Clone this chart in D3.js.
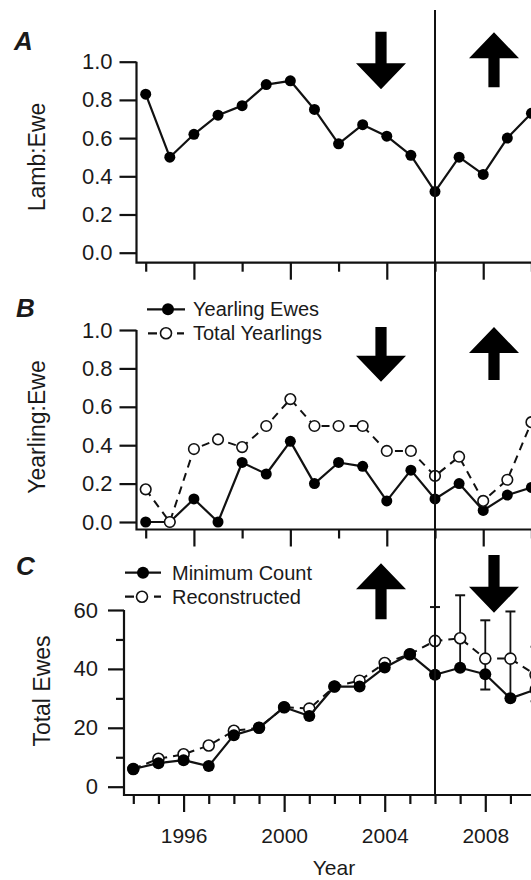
<!DOCTYPE html>
<html>
<head>
<meta charset="utf-8">
<script src="https://cdn.jsdelivr.net/npm/d3@7"></script>
<style>
  html, body { margin: 0; padding: 0; background: #fff; overflow: hidden; }
  svg { display: block; }
  text { font-family: "Liberation Sans", Arial, Helvetica, sans-serif; fill: #1a1a1a; }
</style>
</head>
<body>
<svg id="chart" width="531" height="880"></svg>
<script>
// ---------------- data ----------------
const years = [1994,1995,1996,1997,1998,1999,2000,2001,2002,2003,2004,2005,2006,2007,2008,2009,2010];
const lambEwe = [0.83,0.50,0.62,0.72,0.77,0.88,0.90,0.75,0.57,0.67,0.61,0.51,0.32,0.50,0.41,0.60,0.73];
const yearlingEwes = [0.00,0.00,0.12,0.00,0.31,0.25,0.42,0.20,0.31,0.29,0.11,0.27,0.12,0.20,0.06,0.14,0.18];
const totalYearlings = [0.17,0.00,0.38,0.43,0.39,0.50,0.64,0.50,0.50,0.50,0.37,0.37,0.24,0.34,0.11,0.22,0.52];
const minimumCount = [6,8,9,7,17.5,20,27,24,34,34,40.5,45,38,40.4,38.2,30,33];
const reconstructed = [6,9.5,11,14,19,20,27,26.5,34,36,42,45,49.5,50.4,43.5,43.5,38];
const errYears = [2006,2007,2008,2009,2010];
const errUpper = [61,65,56.5,59.5,47.5];
const errLower = [37,40,33,30,29];
const ratioTicks = [0,0.2,0.4,0.6,0.8,1.0];
const eweMajorTicks = [0,20,40,60];
const eweMinorTicks = [10,30,50];
const yearLabelTicks = [1996,2000,2004,2008];
const evenYears = [1994,1998,2002,2006,2010];
const breakYear = 2006;

// ---------------- layout ----------------
const svg = d3.select("#chart");
const INK = "#111";
const xAB = d3.scaleLinear().domain([1994, 2006]).range([145.7, 435]);
const xC  = d3.scaleLinear().domain([1994, 2006]).range([133.3, 435]);
const yA = d3.scaleLinear().domain([0, 1]).range([252.7, 61.7]);
const yB = d3.scaleLinear().domain([0, 1]).range([522, 330]);
const yC = d3.scaleLinear().domain([0, 60]).range([786.7, 610]);

const panels = {
  A: {x: xAB, y: yA, axisX: 136.5, bottom: 262.7, top: 61.7},
  B: {x: xAB, y: yB, axisX: 136.5, bottom: 529.5, top: 330},
  C: {x: xC,  y: yC, axisX: 124,   bottom: 795,   top: 610}
};

function frame(p) {
  svg.append("path")
    .attr("d", `M${p.axisX},${p.top} V${p.bottom} H${700}`)
    .attr("fill", "none").attr("stroke", INK).attr("stroke-width", 2.2);
}

function styleAxis(g) {
  g.select(".domain").remove();
  g.selectAll(".tick line").attr("stroke", INK).attr("stroke-width", 2.2);
  g.selectAll(".tick text").attr("fill", "#1a1a1a");
}

function ratioYAxis(p) {
  const g = svg.append("g").attr("transform", `translate(${p.axisX},0)`)
    .call(d3.axisLeft(p.y).tickValues(ratioTicks).tickFormat(d3.format(".1f")).tickSize(17).tickPadding(7))
    .style("font-size", "22px");
  styleAxis(g);
}

function xTicksAB(p) {
  const gL = svg.append("g").attr("transform", `translate(0,${p.bottom})`)
    .call(d3.axisBottom(p.x).tickValues(yearLabelTicks).tickFormat("").tickSize(17));
  styleAxis(gL);
  const gS = svg.append("g").attr("transform", `translate(0,${p.bottom})`)
    .call(d3.axisBottom(p.x).tickValues(evenYears).tickFormat("").tickSize(9));
  styleAxis(gS);
}

function arrow(cx, yTop, yBot, dir) {
  const sw = 5.6, hw = 25, hh = 26;
  let pts;
  if (dir === "down") {
    const hb = yBot - hh;
    pts = [[cx-sw,yTop],[cx+sw,yTop],[cx+sw,hb],[cx+hw,hb],[cx,yBot],[cx-hw,hb],[cx-sw,hb]];
  } else {
    const hb = yTop + hh;
    pts = [[cx,yTop],[cx+hw,hb],[cx+sw,hb],[cx+sw,yBot],[cx-sw,yBot],[cx-sw,hb],[cx-hw,hb]];
  }
  svg.append("path").attr("d", "M" + pts.map(p => p.join(",")).join("L") + "Z").attr("fill", "#000");
}

function solidSeries(p, vals, r) {
  const line = d3.line().x((d,i) => p.x(years[i])).y(d => p.y(d));
  svg.append("path").attr("d", line(vals)).attr("fill", "none")
    .attr("stroke", INK).attr("stroke-width", 2.2).attr("stroke-linejoin", "round");
  svg.append("g").selectAll("circle").data(vals).join("circle")
    .attr("cx", (d,i) => p.x(years[i])).attr("cy", d => p.y(d)).attr("r", r).attr("fill", "#000");
}

function dashedSeries(p, vals, r) {
  const line = d3.line().x((d,i) => p.x(years[i])).y(d => p.y(d));
  svg.append("path").attr("d", line(vals)).attr("fill", "none")
    .attr("stroke", INK).attr("stroke-width", 2).attr("stroke-dasharray", "8,6");
  svg.append("g").selectAll("circle").data(vals).join("circle")
    .attr("cx", (d,i) => p.x(years[i])).attr("cy", d => p.y(d)).attr("r", r)
    .attr("fill", "#fff").attr("stroke", INK).attr("stroke-width", 1.6);
}

function yTitle(label, cx, cy) {
  svg.append("text").attr("transform", `translate(${cx},${cy}) rotate(-90)`)
    .attr("text-anchor", "middle").style("font-size", "23px").text(label);
}

function panelLetter(label, x, y) {
  svg.append("text").attr("x", x).attr("y", y).style("font-size", "26px")
    .style("font-weight", "bold").style("font-style", "italic").text(label);
}

function legendRow(x0, x1, xm, y, dashed, label, tx) {
  svg.append("line").attr("x1", x0).attr("x2", x1).attr("y1", y).attr("y2", y)
    .attr("stroke", INK).attr("stroke-width", 2.2)
    .attr("stroke-dasharray", dashed ? "9,20" : null);
  svg.append("circle").attr("cx", xm).attr("cy", y).attr("r", dashed ? 5.5 : 6)
    .attr("fill", dashed ? "#fff" : "#000").attr("stroke", INK).attr("stroke-width", dashed ? 1.6 : 0);
  svg.append("text").attr("x", tx).attr("y", y + 7).style("font-size", "20px").text(label);
}

// ---------------- Panel A ----------------
frame(panels.A);
ratioYAxis(panels.A);
xTicksAB(panels.A);
solidSeries(panels.A, lambEwe, 5.5);
yTitle("Lamb:Ewe", 45, 157);
panelLetter("A", 14, 50);
arrow(381, 31.7, 89.3, "down");
arrow(494, 32.3, 87.3, "up");

// ---------------- Panel B ----------------
frame(panels.B);
ratioYAxis(panels.B);
xTicksAB(panels.B);
solidSeries(panels.B, yearlingEwes, 5.5);
dashedSeries(panels.B, totalYearlings, 5.3);
yTitle("Yearling:Ewe", 45, 427);
panelLetter("B", 16, 317);
arrow(381, 327, 381.7, "down");
arrow(494, 327, 380, "up");
legendRow(147, 185, 168, 309.3, false, "Yearling Ewes", 193);
legendRow(148, 184, 166, 333.3, true, "Total Yearlings", 193);

// ---------------- Panel C ----------------
frame(panels.C);
{
  const p = panels.C;
  const gM = svg.append("g").attr("transform", `translate(${p.axisX},0)`)
    .call(d3.axisLeft(p.y).tickValues(eweMajorTicks).tickFormat(d3.format("d")).tickSize(16).tickPadding(10))
    .style("font-size", "22px");
  styleAxis(gM);
  const gm = svg.append("g").attr("transform", `translate(${p.axisX},0)`)
    .call(d3.axisLeft(p.y).tickValues(eweMinorTicks).tickFormat("").tickSize(8));
  styleAxis(gm);
  const gL = svg.append("g").attr("transform", `translate(0,${p.bottom})`)
    .call(d3.axisBottom(p.x).tickValues(yearLabelTicks).tickFormat(d3.format("d")).tickSize(17).tickPadding(16))
    .style("font-size", "21px");
  styleAxis(gL);
  const gS = svg.append("g").attr("transform", `translate(0,${p.bottom})`)
    .call(d3.axisBottom(p.x).tickValues(years.filter(y => !yearLabelTicks.includes(y))).tickFormat("").tickSize(9));
  styleAxis(gS);

  // error bars on reconstructed
  const eg = svg.append("g");
  errYears.forEach((yr, i) => {
    const cx = p.x(yr);
    eg.append("line").attr("x1", cx).attr("x2", cx).attr("y1", p.y(errUpper[i])).attr("y2", p.y(errLower[i]))
      .attr("stroke", INK).attr("stroke-width", 1.8);
    [errUpper[i], errLower[i]].forEach(v => {
      eg.append("line").attr("x1", cx - 5).attr("x2", cx + 5).attr("y1", p.y(v)).attr("y2", p.y(v))
        .attr("stroke", INK).attr("stroke-width", 2);
    });
  });
  dashedSeries(p, reconstructed, 5.5);
  solidSeries(p, minimumCount, 6);
  svg.append("text").attr("x", 334).attr("y", 875).attr("text-anchor", "middle")
    .style("font-size", "21px").text("Year");
}
yTitle("Total Ewes", 50, 691);
panelLetter("C", 16, 575);
arrow(381, 563.3, 619.3, "up");
arrow(494, 555, 612.7, "down");
legendRow(125, 161, 143, 572.7, false, "Minimum Count", 172);
legendRow(125, 161, 142, 596.7, true, "Reconstructed", 172);

// ---------------- break line ----------------
svg.append("line").attr("x1", xAB(breakYear)).attr("x2", xAB(breakYear))
  .attr("y1", 10).attr("y2", 795).attr("stroke", INK).attr("stroke-width", 2);
</script>
</body>
</html>
